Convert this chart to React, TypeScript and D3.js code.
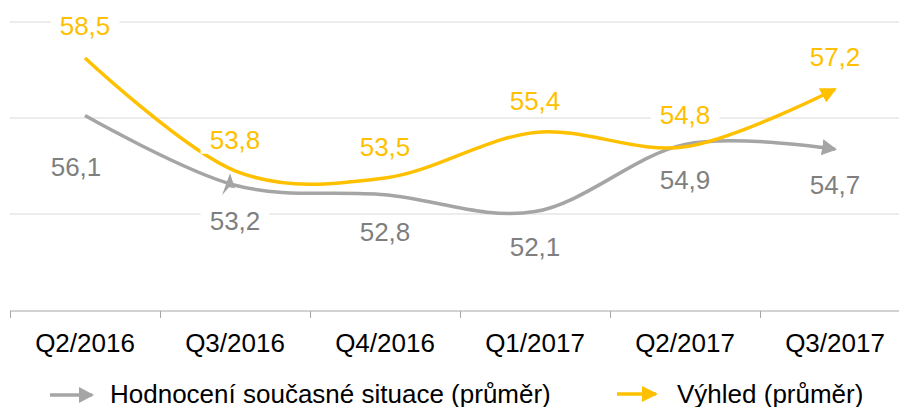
import React from 'react';
import * as d3 from 'd3';

const categories = ['Q2/2016', 'Q3/2016', 'Q4/2016', 'Q1/2017', 'Q2/2017', 'Q3/2017'];
const currentValues = [56.1, 53.2, 52.8, 52.1, 54.9, 54.7];
const outlookValues = [58.5, 53.8, 53.5, 55.4, 54.8, 57.2];
const seriesNames = ['Hodnocení současné situace (průměr)', 'Výhled (průměr)'];
const yTicks = [48, 52, 56, 60];

const W = 899;
const H = 407;
const FONT = '"Liberation Sans", Arial, Helvetica, sans-serif';
const GRAY = '#A5A5A5';
const GRAY_TEXT = '#7F7F7F';
const YELLOW = '#FFC000';

const fmt = (v: number) => v.toFixed(1).replace('.', ',');

export default function App() {
  const x = d3.scaleBand<string>().domain(categories).range([10, 910]);
  const cx = (c: string) => (x(c) as number) + x.bandwidth() / 2;
  const y = d3.scaleLinear().domain([48, 60]).range([310, 22]);

  const line = d3
    .line<number>()
    .x((_, i) => cx(categories[i]))
    .y((d) => y(d))
    .curve(d3.curveCardinal.tension(0));

  // label offsets (centre of label relative to point)
  const grayDx = [-9, 0, 0, 0, 0, 0];
  const grayDy = [51, 36, 37, 35, 36, 36];
  const yellowDy = [-32, -31, -31, -31, -32, -32];

  const charW = 14.46; // approx digit width at 26px
  const labelW = (s: string) => s.length * charW - 7 + 18;

  const px = cx(categories[1]);
  const py = y(currentValues[1]);
  const strayArrow = `M${px - 5},${py - 12} L${px},${py + 3} L${px - 6},${py + 2} L${px - 13},${py + 10} Z`;

  const renderLabel = (v: number, i: number, color: string, dx: number, dy: number, key: string) => {
    const s = fmt(v);
    const lx = cx(categories[i]) + dx;
    const ly = y(v) + dy;
    const w = labelW(s);
    return (
      <g key={key}>
        <rect x={lx - w / 2} y={ly - 14} width={w} height={28} fill="#fff" />
        <text x={lx} y={ly + 9} textAnchor="middle" fill={color} fontSize={26} fontFamily={FONT}>
          {s}
        </text>
      </g>
    );
  };

  return (
    <svg width={W} height={H} style={{ position: 'absolute', left: 0, top: 0 }}>
      <defs>
        <marker id="arrGray" markerUnits="userSpaceOnUse" viewBox="0 -8 15 16" markerWidth={15} markerHeight={16} refX={13} refY={0} orient="auto">
          <path d="M0,-8 L15,0 L0,8 Z" fill={GRAY} />
        </marker>
        <marker id="arrYellow" markerUnits="userSpaceOnUse" viewBox="0 -8 16 16" markerWidth={16} markerHeight={16} refX={14} refY={0} orient="auto">
          <path d="M0,-8 L16,0 L0,8 Z" fill={YELLOW} />
        </marker>
      </defs>
      <rect width={W} height={H} fill="#fff" />
      {yTicks.slice(1).map((t) => (
        <line key={t} x1={10} x2={W} y1={y(t)} y2={y(t)} stroke="#D9D9D9" strokeWidth={1} />
      ))}
      <line x1={10} x2={W} y1={y(48) + 1} y2={y(48) + 1} stroke="#A6A6A6" strokeWidth={1} />
      {categories.map((c) => (
        <line key={c} x1={(x(c) as number) + 0.5} x2={(x(c) as number) + 0.5} y1={y(48) + 1} y2={y(48) + 8} stroke="#A6A6A6" strokeWidth={1} />
      ))}
      {categories.map((c) => (
        <text key={c} x={cx(c)} y={352} textAnchor="middle" fontSize={26} fontFamily={FONT} fill="#000">
          {c}
        </text>
      ))}
      <path d={line(currentValues) || ''} fill="none" stroke={GRAY} strokeWidth={3.5} markerEnd="url(#arrGray)" />
      <path d={strayArrow} fill={GRAY} />
      <path d={line(outlookValues) || ''} fill="none" stroke={YELLOW} strokeWidth={3.5} markerEnd="url(#arrYellow)" />
      {currentValues.map((v, i) => renderLabel(v, i, GRAY_TEXT, grayDx[i], grayDy[i], 'g' + i))}
      {outlookValues.map((v, i) => renderLabel(v, i, YELLOW, 0, yellowDy[i], 'y' + i))}
      <g>
        <line x1={50} x2={92} y1={395} y2={395} stroke={GRAY} strokeWidth={3.5} markerEnd="url(#arrGray)" />
        <line x1={89} x2={103} y1={395} y2={395} stroke="none" />
        <text x={110} y={403} fontSize={26} fontFamily={FONT} fill="#000">
          {seriesNames[0]}
        </text>
        <line x1={617} x2={656} y1={394} y2={394} stroke={YELLOW} strokeWidth={3.5} markerEnd="url(#arrYellow)" />
        <text x={677} y={403} fontSize={26} fontFamily={FONT} fill="#000">
          {seriesNames[1]}
        </text>
      </g>
    </svg>
  );
}
